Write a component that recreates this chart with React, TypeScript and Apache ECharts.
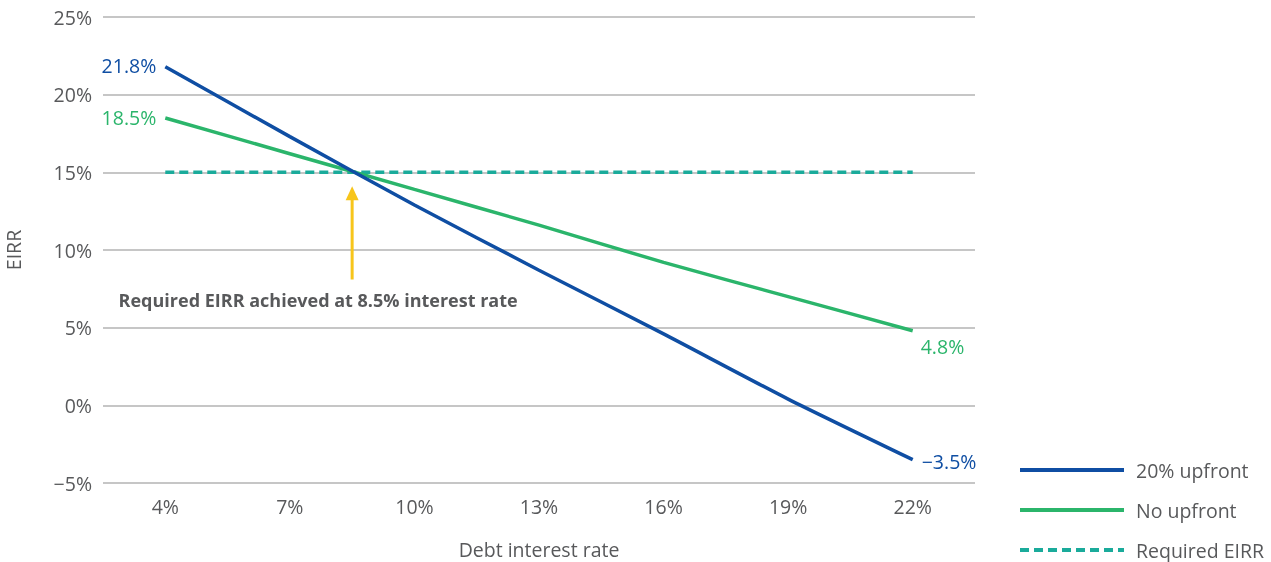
import React, { useEffect, useRef } from "react";
import * as echarts from "echarts";

const rates = [4, 7, 10, 13, 16, 19, 22];
const categories = ["4%", "7%", "10%", "13%", "16%", "19%", "22%"];
const upfront20 = [21.8, 17.3, 12.9, 8.7, 4.6, 0.4, -3.5];
const noUpfront = [18.5, 16.2, 13.9, 11.6, 9.2, 7.0, 4.8];
const requiredEirr = [15, 15, 15, 15, 15, 15, 15];
const crossingRate = 8.5;
const arrowFrom = 8.1;
const arrowTo = 13.65;
const annotation = "Required EIRR achieved at 8.5% interest rate";
const seriesNames = ["20% upfront", "No upfront", "Required EIRR"];

const BLUE = "#0f4ea3";
const GREEN = "#2bb56b";
const TEAL = "#1aab9b";
const YELLOW = "#f7c51b";
const GRAY = "#58595b";
const FONT = "'Open Sans', 'Noto Sans', sans-serif";
const FS = 19.5;

const fmt = (v: number) => (v < 0 ? "\u2212" : "") + Math.abs(v).toFixed(1) + "%";
const fmtTick = (v: number) => (v < 0 ? "\u2212" : "") + Math.abs(v) + "%";

const last = rates.length - 1;
const endLabelData = [
  { value: [rates[0], upfront20[0]], label: { position: "left", distance: 9, offset: [0, -1], color: BLUE } },
  { value: [rates[0], noUpfront[0]], label: { position: "left", distance: 9, offset: [0, 0], color: GREEN } },
  { value: [rates[last], noUpfront[last]], label: { position: "right", distance: 8, offset: [0, 16], color: GREEN } },
  { value: [rates[last], upfront20[last]], label: { position: "right", distance: 9, offset: [0, 2], color: BLUE } },
];

export default function App() {
  const ref = useRef<HTMLDivElement>(null);
  useEffect(() => {
    document.body.style.margin = "0";
    const chart = echarts.init(ref.current!, undefined, { renderer: "svg" });
    chart.setOption({
      animation: false,
      textStyle: { fontFamily: FONT },
      grid: { left: 103, right: 296, top: 17, bottom: 79, containLabel: false, outerBoundsMode: "none" },
      legend: {
        orient: "vertical",
        left: 1018,
        top: 460,
        padding: 0,
        data: seriesNames,
        itemWidth: 104,
        itemHeight: 16,
        itemGap: 20,
        itemStyle: { opacity: 0 },
        lineStyle: { width: 4 },
        textStyle: { color: GRAY, fontSize: FS, lineHeight: 20, fontFamily: FONT, padding: [0, 0, 0, 7] },
      },
      xAxis: [
        {
          type: "category",
          data: categories,
          boundaryGap: true,
          axisLine: { show: false },
          axisTick: { show: false },
          axisLabel: { color: GRAY, fontSize: FS, margin: 13, fontFamily: FONT },
          name: "Debt interest rate",
          nameLocation: "middle",
          nameGap: 56,
          nameTextStyle: { color: GRAY, fontSize: FS, lineHeight: 20, fontFamily: FONT },
        },
        {
          type: "value",
          min: 2.5,
          max: 23.5,
          show: false,
        },
      ],
      yAxis: {
        type: "value",
        min: -5,
        max: 25,
        interval: 5,
        axisLine: { show: false },
        axisTick: { show: false },
        axisLabel: { color: GRAY, fontSize: FS, margin: 11, formatter: fmtTick, fontFamily: FONT },
        splitLine: { lineStyle: { color: "#b3b3b3", width: 1.5 } },
        name: "EIRR",
        nameLocation: "middle",
        nameGap: 80,
        nameTextStyle: { color: GRAY, fontSize: FS, fontFamily: FONT },
      },
      series: [
        {
          name: seriesNames[2],
          type: "line",
          data: requiredEirr,
          symbol: "none",
          lineStyle: { color: TEAL, width: 3.5, type: [9, 5] },
          itemStyle: { color: TEAL },
          silent: true,
        },
        {
          name: seriesNames[1],
          type: "line",
          data: noUpfront,
          symbol: "none",
          smooth: 0.2,
          lineStyle: { color: GREEN, width: 3.5 },
          itemStyle: { color: GREEN },
          silent: true,
        },
        {
          name: seriesNames[0],
          type: "line",
          data: upfront20,
          symbol: "none",
          smooth: 0.2,
          lineStyle: { color: BLUE, width: 3.5 },
          itemStyle: { color: BLUE },
          silent: true,
        },
        {
          name: "endLabels",
          type: "scatter",
          xAxisIndex: 1,
          symbolSize: 0,
          itemStyle: { opacity: 1 },
          data: endLabelData,
          label: {
            show: true,
            opacity: 1,
            fontSize: FS,
            fontFamily: FONT,
            formatter: (p: any) => fmt(p.value[1]),
          },
          silent: true,
        },
        {
          name: "arrow",
          type: "line",
          xAxisIndex: 1,
          data: [
            { value: [crossingRate, arrowFrom], symbol: "none" },
            { value: [crossingRate, arrowTo], symbol: "triangle", symbolSize: [13, 14] },
          ],
          lineStyle: { color: YELLOW, width: 3 },
          itemStyle: { color: YELLOW },
          silent: true,
          z: 5,
        },
        {
          name: "annotation",
          type: "scatter",
          xAxisIndex: 1,
          symbolSize: 0,
          itemStyle: { opacity: 1 },
          data: [[crossingRate, arrowFrom]],
          label: {
            show: true,
            opacity: 1,
            position: "bottom",
            distance: 11,
            offset: [-34, 0],
            formatter: annotation,
            color: GRAY,
            fontSize: 18,
            fontWeight: "bold",
            fontFamily: FONT,
          },
          silent: true,
        },
      ],
    });
    return () => chart.dispose();
  }, []);
  return <div ref={ref} style={{ position: "fixed", left: 0, top: 0, width: 1271, height: 562 }} />;
}
